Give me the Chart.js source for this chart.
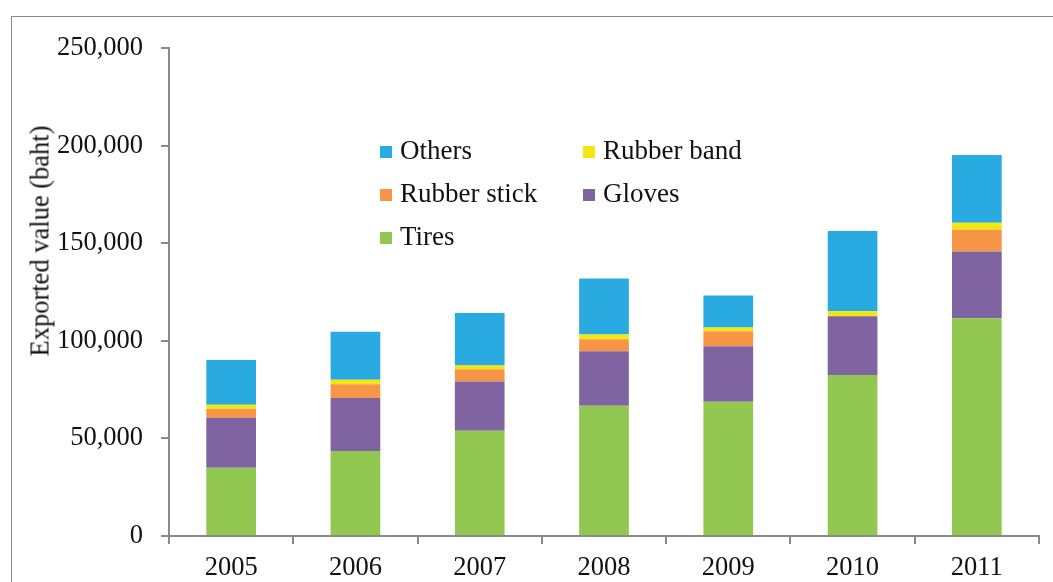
<!DOCTYPE html>
<html>
<head>
<meta charset="utf-8">
<script src="https://cdn.jsdelivr.net/npm/chart.js@4"></script>
<style>
  body { margin: 0; background: #fff; }
  #wrap { position: relative; width: 1053px; height: 582px; overflow: hidden; font-family: 'Liberation Serif', 'Times New Roman', serif; color: #111; }
  #frame { position: absolute; left: 11px; top: 16px; width: 1100px; height: 700px; border: 1.5px solid #8a8a8a; box-sizing: border-box; }
  #chart { position: absolute; left: 0; top: 0; }
  #ytitle { position: absolute; left: 40px; top: 241px; transform: translate(-50%, -50%) rotate(-90deg); white-space: nowrap; font-size: 26.5px; }
  .item { position: absolute; font-size: 27px; line-height: 30px; white-space: nowrap; }
  .item span { display: inline-block; width: 12px; height: 12px; margin-right: 8px; vertical-align: 1px; }
</style>
</head>
<body>
<div id="wrap">
  <div id="frame"></div>
  <canvas id="chart" width="1053" height="582"></canvas>
  <div id="ytitle">Exported value (baht)</div>
  <div id="legend"></div>
</div>
<script>
// values (baht)
const years = ['2005', '2006', '2007', '2008', '2009', '2010', '2011'];
const tires = [35000, 43600, 53900, 66700, 68800, 82500, 111500];
const gloves = [25600, 27100, 25200, 27900, 28400, 30100, 34300];
const rubberStick = [4600, 7000, 6300, 6200, 7700, 0, 11100];
const rubberBand = [2000, 2400, 1900, 2400, 1900, 2500, 3600];
const others = [23000, 24600, 27000, 28700, 16400, 41100, 34700];

const series = [
  { label: 'Tires', data: tires, color: '#92c851' },
  { label: 'Gloves', data: gloves, color: '#8064a2' },
  { label: 'Rubber stick', data: rubberStick, color: '#f79646' },
  { label: 'Rubber band', data: rubberBand, color: '#f2e80f' },
  { label: 'Others', data: others, color: '#29abe2' }
];

const serif = "'Liberation Serif', 'Times New Roman', serif";

const ctx = document.getElementById('chart').getContext('2d');
const chart = new Chart(ctx, {
  type: 'bar',
  data: {
    labels: years,
    datasets: series.map(s => ({
      label: s.label,
      data: s.data,
      backgroundColor: s.color,
      borderWidth: 0,
      barPercentage: 0.4,
      categoryPercentage: 1.0
    }))
  },
  options: {
    responsive: false,
    animation: false,
    layout: { padding: { top: 48, right: 14, left: 0, bottom: 0 } },
    plugins: { legend: { display: false }, tooltip: { enabled: false } },
    scales: {
      x: {
        stacked: true,
        afterFit: scale => { scale.height = 46; },
        border: { color: '#8a8a8a', width: 2 },
        grid: { offset: true, drawOnChartArea: false, drawTicks: true, tickLength: 8, color: '#8a8a8a', lineWidth: 2 },
        ticks: { color: '#111', padding: 8, font: { family: serif, size: 26.5 } }
      },
      y: {
        stacked: true,
        min: 0,
        max: 250000,
        afterFit: scale => { scale.width = 169; },
        border: { color: '#8a8a8a', width: 2 },
        grid: { drawOnChartArea: false, drawTicks: true, tickLength: 8, color: '#8a8a8a', lineWidth: 2 },
        ticks: {
          stepSize: 50000,
          color: '#111',
          padding: 18,
          font: { family: serif, size: 26.5 },
          callback: v => v.toLocaleString('en-US')
        }
      }
    }
  }
});

// legend laid out like the original, two columns inside the plot
const legendOrder = ['Others', 'Rubber band', 'Rubber stick', 'Gloves', 'Tires'];
const legendPos = [[380, 135], [583, 135], [380, 178], [583, 178], [380, 221]];
const legend = document.getElementById('legend');
legendOrder.forEach((name, i) => {
  const s = series.find(d => d.label === name);
  const div = document.createElement('div');
  div.className = 'item';
  div.style.left = legendPos[i][0] + 'px';
  div.style.top = legendPos[i][1] + 'px';
  div.innerHTML = '<span style="background:' + s.color + '"></span>' + name;
  legend.appendChild(div);
});
</script>
</body>
</html>
